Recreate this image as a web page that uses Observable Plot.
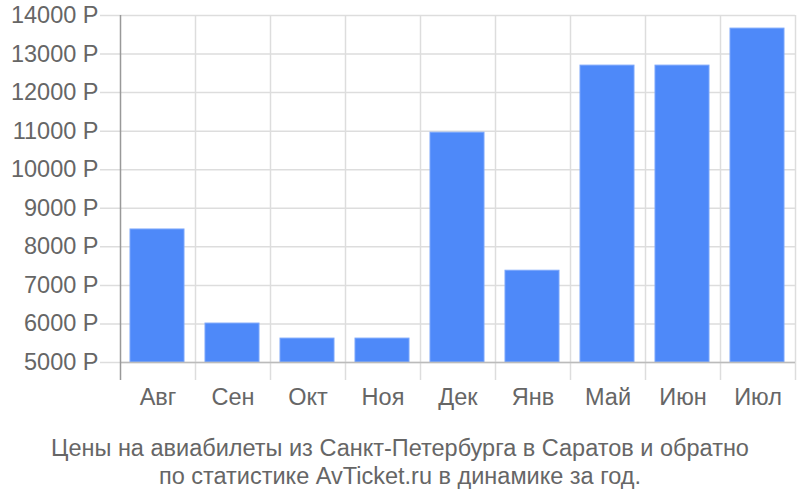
<!DOCTYPE html>
<html>
<head>
<meta charset="utf-8">
<script src="https://cdn.jsdelivr.net/npm/d3@7"></script>
<script src="https://cdn.jsdelivr.net/npm/@observablehq/plot@0.6"></script>
<style>
  body { margin: 0; background: #fff; }
  #chart { width: 800px; }
  .caption { font-family: "Liberation Sans", Arial, sans-serif; font-size: 23.5px; color: #666; text-align: center; line-height: 28px; padding-top: 14px; width: 800px; }
</style>
</head>
<body>
<div id="chart"></div>
<div class="caption">Цены на авиабилеты из Санкт-Петербурга в Саратов и обратно<br>по статистике AvTicket.ru в динамике за год.</div>
<script>
const months = ["Авг", "Сен", "Окт", "Ноя", "Дек", "Янв", "Май", "Июн", "Июл"];
const prices = [8450, 6010, 5620, 5620, 10960, 7380, 12700, 12700, 13660];
const yTicks = [5000, 6000, 7000, 8000, 9000, 10000, 11000, 12000, 13000, 14000];

const data = months.map((m, i) => ({month: m, price: prices[i]}));
const font = "Liberation Sans, Arial, sans-serif";

const chart = Plot.plot({
  width: 800,
  height: 420,
  marginTop: 15,
  marginBottom: 58,
  marginLeft: 120,
  marginRight: 5,
  style: {fontFamily: font, fontSize: "23.5px", color: "#666", background: "#fff"},
  x: {domain: months, padding: 0, label: null},
  y: {domain: [5000, 14000], label: null},
  marks: [
    Plot.ruleY(yTicks, {stroke: "#dddddd", strokeWidth: 1.5, insetLeft: -20}),
    Plot.ruleX(months.slice(1), {stroke: "#dddddd", strokeWidth: 1.5, dx: -37.5, insetBottom: -18}),
    Plot.ruleX([months[months.length - 1]], {stroke: "#dddddd", strokeWidth: 1.5, dx: 37.5, insetBottom: -18}),
    Plot.barY(data, {x: "month", y1: 5000, y2: "price", fill: "#4e89f9", stroke: "#7aa6fb", strokeWidth: 1, insetLeft: 10, insetRight: 11}),
    Plot.ruleY([5000], {stroke: "#bbbbbb", strokeWidth: 1.5}),
    Plot.ruleX([months[0]], {stroke: "#999999", strokeWidth: 1.5, dx: -37.5, insetBottom: -18}),
    Plot.axisY(yTicks, {tickSize: 0, tickPadding: 22, tickFormat: d => d + " Р", fontSize: 23.5, fill: "#666"}),
    Plot.axisX({tickSize: 0, tickPadding: 26, fontSize: 23.5, fill: "#666"})
  ]
});
document.getElementById("chart").appendChild(chart);
</script>
</body>
</html>
